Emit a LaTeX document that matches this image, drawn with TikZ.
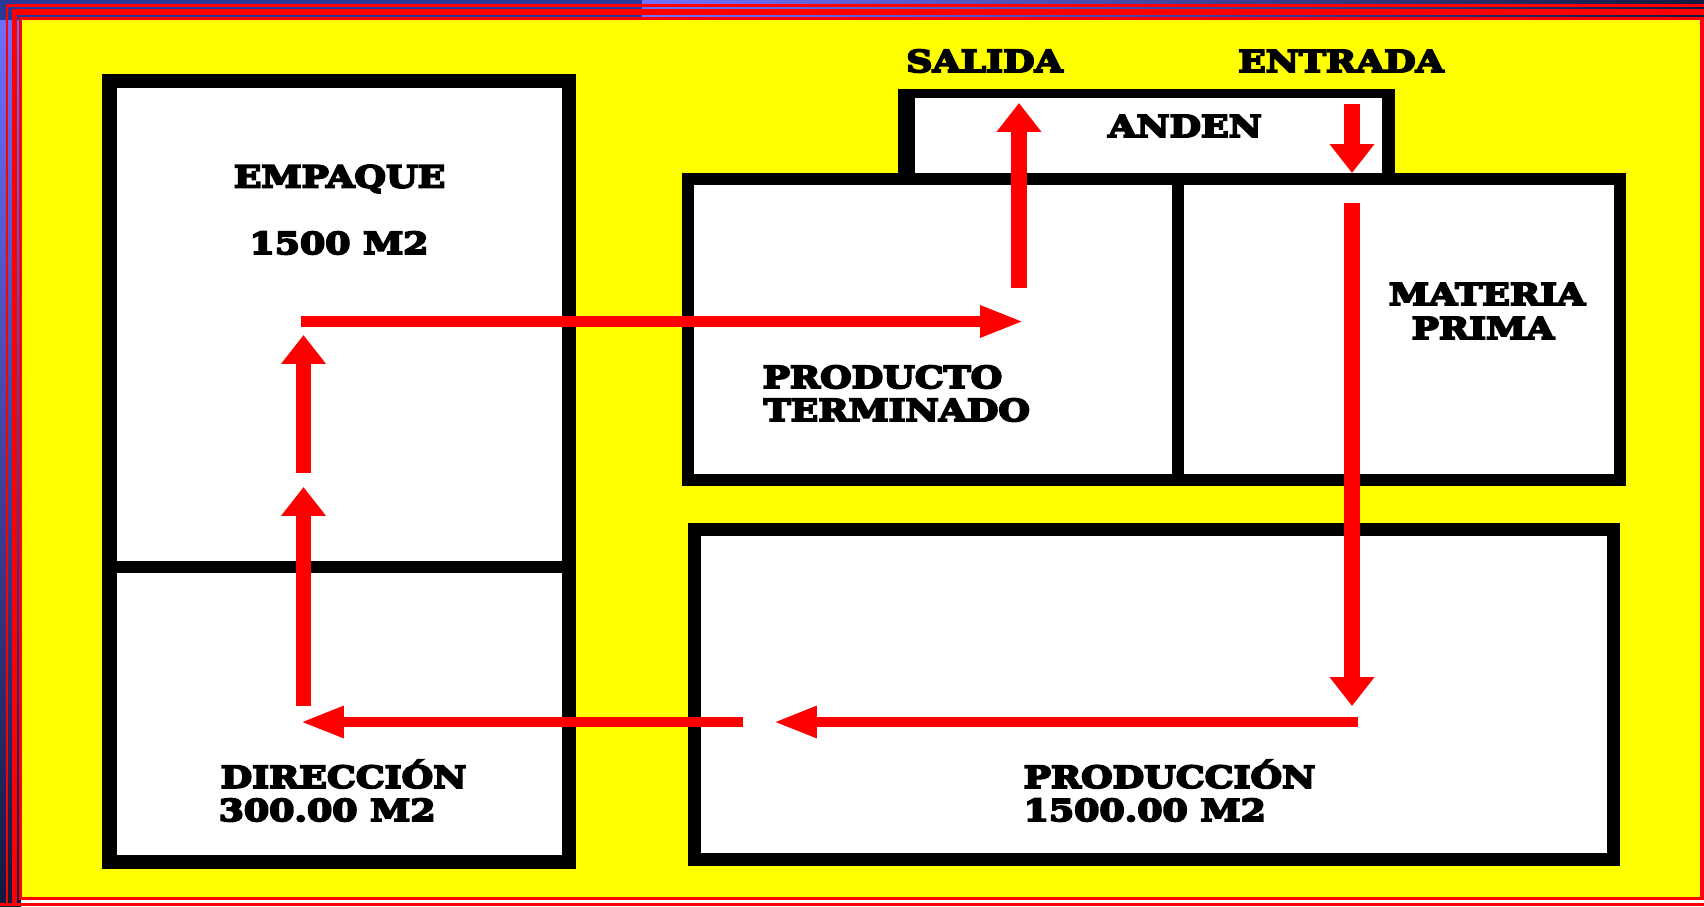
\documentclass[tikz,border=0pt]{standalone}
\usepackage{fontspec}
\usepackage{tikz}
\usetikzlibrary{arrows.meta, positioning, calc}
\newfontfamily\decofont[FakeStretch=1.2]{DejaVu Serif}
\definecolor{framered}{RGB}{255,0,0}
\definecolor{framenavy}{RGB}{16,26,64}
\definecolor{framechecker}{RGB}{40,56,150}
\definecolor{frameblue}{RGB}{112,112,255}
\definecolor{plainyellow}{RGB}{255,255,0}
\tikzset{
    room/.style={draw=black, fill=white, line join=miter},
    wall/.style={black, line width=3.2pt},
    hflow/.style={draw=red, line width=3.1pt, -{Triangle[length=12.5pt, width=8.3pt]}},
    vflow/.style={draw=red, line width=4.3pt, -{Triangle[length=8.2pt, width=12.2pt]}},
    tag/.style={font=\decofont\bfseries\fontsize{8.6}{8.6}\selectfont\special{pdf:literal direct 2 Tr 0.55 w}, inner sep=0pt, text=black},
    every node/.style={tag}
}
\begin{document}
\begin{tikzpicture}
    \useasboundingbox (0,0) rectangle (17.04,9.06);
    % Frame bands
    \shade[top color=frameblue, bottom color=framenavy] (0,0) rectangle (0.21,9.06);
    \fill[framechecker] (0,8.86) rectangle (6.42,9.06);
    \shade[left color=frameblue, right color=framenavy] (6.42,8.85) rectangle (17.04,9.06);
    \draw[framered, line width=0.6pt] (0.07,0) -- (0.07,9.005);
    \draw[framered, line width=0.85pt] (0.07,9.005) -- (17.04,9.005);
    \draw[framered, line width=1.4pt] (0.145,0.03) -- (0.145,8.94);
    \draw[framered, line width=1.7pt] (0.12,8.94) -- (17.04,8.94);
    \fill[framered] (0,0) rectangle (17.04,0.03);
    \fill[framered] (0.19,0.06) rectangle (17.04,8.89);
    \fill[plainyellow] (0.22,0.09) rectangle (17.00,8.855);
    % === LEFT BLOCK ===
    \draw[room, line width=4.2pt] (1.095,0.44) rectangle (5.69,8.25);
    \coordinate (divl) at (1.095,3.39);
    \coordinate (divr) at (5.69,3.39);
    \draw[wall] (divl) -- (divr);
    % === RIGHT BLOCK ===
    \fill[white] (9.0,7.2) rectangle (13.88,8.12);
    \draw[room, line width=3.3pt] (6.88,4.26) rectangle (16.20,7.27);
    \draw[wall, line width=4.6pt] (9.065,7.27) -- (9.065,8.12);
    \draw[wall, line width=3.7pt] (13.885,7.27) -- (13.885,8.12);
    \draw[wall, line width=2.6pt] (8.98,8.125) -- (13.95,8.125);
    \coordinate (sept) at (11.78,7.27);
    \coordinate (sepb) at (11.78,4.26);
    \draw[wall] (sept) -- (sepb);
    \draw[room, line width=3.7pt] (6.945,0.465) rectangle (16.135,3.765);
    % Labels
    \node (empaque) at (3.395,7.27) {EMPAQUE};
    \node (empaqueArea) at (3.39,6.63) {1500 M2};
    \node (salida) at (9.845,8.45) {SALIDA};
    \node (entrada) at (13.41,8.45) {ENTRADA};
    \node (anden) at (11.85,7.80) {ANDEN};
    \node (materia) at (14.87,6.12) {MATERIA};
    \node (prima) at (14.83,5.78) {PRIMA};
    \node[anchor=west] (producto) at (7.62,5.29) {PRODUCTO};
    \node[anchor=west] (terminado) at (7.63,4.96) {TERMINADO};
    \node[anchor=west] (direccion) at (2.20,1.32) {DIRECCIÓN};
    \node[anchor=west] (direccionArea) at (2.18,0.96) {300.00 M2};
    \node[anchor=west] (produccion) at (10.23,1.32) {PRODUCCIÓN};
    \node[anchor=west] (produccionArea) at (10.23,0.96) {1500.00 M2};
    % Flow ends
    \coordinate (a1) at (3.01,5.845);
    \coordinate (a2) at (10.24,5.845);
    \coordinate (b1) at (10.19,6.18);
    \coordinate (b2) at (10.19,8.03);
    \coordinate (c1) at (13.52,8.02);
    \coordinate (c2) at (13.52,7.33);
    \coordinate (d1) at (13.52,7.03);
    \coordinate (d2) at (13.52,2.00);
    \coordinate (e1) at (13.58,1.84);
    \coordinate (e2) at (7.73,1.84);
    \coordinate (f1) at (7.43,1.84);
    \coordinate (f2) at (3.00,1.84);
    \coordinate (g1) at (3.035,2.00);
    \coordinate (g2) at (3.035,4.19);
    \coordinate (h1) at (3.035,4.33);
    \coordinate (h2) at (3.035,5.71);
    % Flow
    \draw[hflow] (a1) -- (a2);
    \draw[vflow] (b1) -- (b2);
    \draw[vflow] (c1) -- (c2);
    \draw[vflow] (d1) -- (d2);
    \draw[hflow] (e1) -- (e2);
    \draw[hflow] (f1) -- (f2);
    \draw[vflow] (g1) -- (g2);
    \draw[vflow] (h1) -- (h2);
\end{tikzpicture}
\end{document}
